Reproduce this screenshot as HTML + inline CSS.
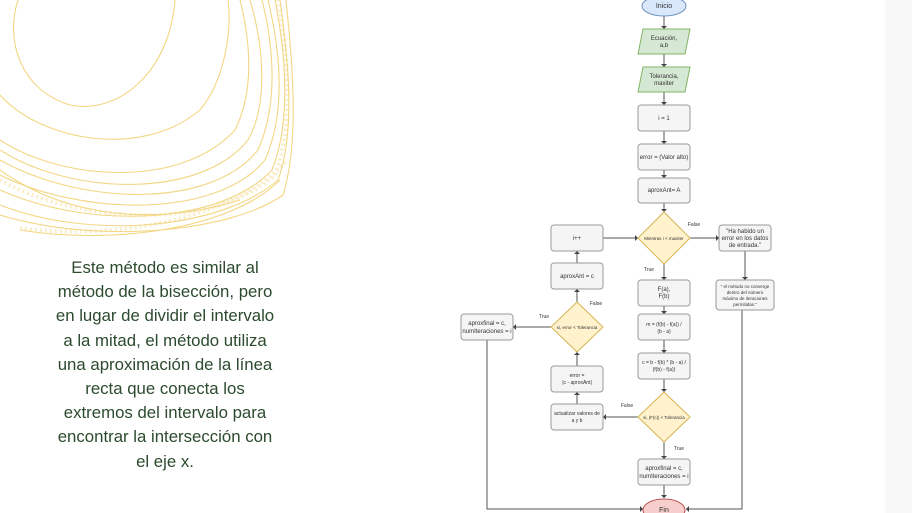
<!DOCTYPE html>
<html><head><meta charset="utf-8"><style>
body{margin:0;width:912px;height:513px;overflow:hidden;background:#fff;position:relative;font-family:"Liberation Sans",sans-serif}
.txt{position:absolute;left:15px;width:300px;top:256px;text-align:center;color:#2c4a2e;font-size:16.8px;line-height:24.2px;white-space:nowrap}
svg{position:absolute;left:0;top:0}
</style></head><body>
<svg width="912" height="513" viewBox="0 0 912 513">
<g fill="none" stroke="#f0c95a" stroke-width="1.1" opacity="0.75">
<path d="M18 0 C5 40 20 90 70 105 C120 115 170 70 175 0"/>
<path d="M0 95 C40 140 140 160 200 110 C225 80 232 30 228 0"/>
<path d="M0 140 C60 180 180 190 235 130 C255 90 250 40 240 0"/>
<path d="M0 150 C70 195 200 200 248 140 C270 100 262 40 250 0"/>
<path d="M0 160 C80 205 210 210 258 150 C280 100 272 40 262 0"/>
<path d="M0 175 C80 215 215 220 265 160 C287 110 280 50 268 0"/>
<path d="M0 190 C90 230 220 225 272 170 C292 120 285 50 275 0"/>
<path d="M0 205 C90 240 220 230 278 180 C296 130 288 60 280 0"/>
<path d="M0 215 C100 245 230 232 283 195 C300 140 292 60 286 0"/>
<path d="M20 230 C110 245 230 230 280 180"/>
<path d="M0 170 C70 220 160 225 240 200"/>
</g>
<g fill="none" stroke="#f5dc96" stroke-width="4" stroke-dasharray="2 3" opacity="0.5">
<path d="M0 180 C80 225 215 230 275 175 C295 120 287 50 278 0"/>
<path d="M20 228 C110 240 230 222 288 160"/>
</g>
<rect x="885" y="0" width="27" height="513" fill="#f8f8f8"/>
<g stroke="#555" stroke-width="1" fill="none">
<path d="M664 16V29M664 54V67M664 92V105M664 131V144M664 170V178M664 203V212M664 264V280M664 306V314M664 340V353M664 379V392M664 442V459M664 485V498"/>
<path d="M690 238H719M745 251V280M742 310V509H686M638 238H603"/>
<path d="M577 302V289M577 263V251M577 366V352M577 404V392M638 417H603M551 327H513M487 340V509H643"/>
</g>
<g fill="#444">
<path d="M661 26l3 3 3-3zM661 64l3 3 3-3zM661 102l3 3 3-3zM661 141l3 3 3-3zM661 175l3 3 3-3zM661 209l3 3 3-3zM661 277l3 3 3-3zM661 311l3 3 3-3zM661 350l3 3 3-3zM661 389l3 3 3-3zM661 456l3 3 3-3zM661 495l3 3 3-3z"/>
<path d="M716 235l3 3-3 3zM742 277l3 3 3-3zM635 235l3 3-3 3zM640 506l3 3-3 3zM689 506l-3 3 3 3z"/>
<path d="M574 292l3-3 3 3zM574 254l3-3 3 3zM574 355l3-3 3 3zM574 395l3-3 3 3zM606 414l-3 3 3 3zM516 324l-3 3 3 3z"/>
</g>
<ellipse cx="664" cy="6" rx="22" ry="10" fill="#dae8fc" stroke="#6c8ebf"/>
<ellipse cx="664" cy="510" rx="21" ry="11" fill="#f8cecc" stroke="#b85450"/>
<g fill="#d5e8d4" stroke="#82b366">
<path d="M643 29H690L685 54H638Z"/><path d="M643 67H690L685 92H638Z"/>
</g>
<g fill="#f5f5f5" stroke="#999">
<rect x="638" y="105" width="52" height="26" rx="3"/>
<rect x="638" y="144" width="52" height="26" rx="3"/>
<rect x="638" y="178" width="52" height="25" rx="3"/>
<rect x="638" y="280" width="52" height="26" rx="3"/>
<rect x="638" y="314" width="52" height="26" rx="3"/>
<rect x="638" y="353" width="52" height="26" rx="3"/>
<rect x="638" y="459" width="52" height="26" rx="3"/>
<rect x="551" y="225" width="52" height="26" rx="3"/>
<rect x="551" y="263" width="52" height="26" rx="3"/>
<rect x="551" y="366" width="52" height="26" rx="3"/>
<rect x="551" y="404" width="52" height="26" rx="3"/>
<rect x="461" y="314" width="52" height="26" rx="3"/>
<rect x="719" y="225" width="52" height="26" rx="3"/>
<rect x="716" y="280" width="58" height="30" rx="3"/>
</g>
<g fill="#fff2cc" stroke="#d6b656">
<path d="M664 212L690 238 664 264 638 238Z"/>
<path d="M664 392L690 417 664 442 638 417Z"/>
<path d="M577 302L603 327 577 352 551 327Z"/>
</g>
<g fill="#333" font-size="6" text-anchor="middle" font-family="Liberation Sans,sans-serif">
<text x="664" y="8" font-size="7">Inicio</text>
<text x="664" y="40">Ecuación,</text><text x="664" y="47">a,b</text>
<text x="664" y="78">Tolerancia,</text><text x="664" y="85">maxiter</text>
<text x="664" y="120">i = 1</text>
<text x="664" y="159">error = (Valor alto)</text>
<text x="664" y="192">aproxAnt= A</text>
<text x="664" y="240" font-size="4.5">Mientras i &lt; maxiter</text>
<text x="664" y="291">F(a),</text><text x="664" y="298">F(b)</text>
<text x="664" y="326" font-size="5">m = (f(b) - f(a)) /</text><text x="664" y="333" font-size="5">(b - a)</text>
<text x="664" y="364" font-size="5">c = b - f(b) * (b - a) /</text><text x="664" y="371" font-size="5">(f(b) - f(a))</text>
<text x="664" y="419" font-size="4.5">si, |F(c)| &lt; Tolerancia</text>
<text x="664" y="470">aproxfinal = c,</text><text x="664" y="478">numIteraciones = i</text>
<text x="664" y="512" font-size="7">Fin</text>
<text x="577" y="240">i++</text>
<text x="577" y="278">aproxAnt = c</text>
<text x="577" y="329" font-size="4.5">si, error &lt; Tolerancia</text>
<text x="577" y="377" font-size="5">error =</text><text x="577" y="384" font-size="5">|c - aproxAnt|</text>
<text x="577" y="415" font-size="5">actualizar valores de</text><text x="577" y="422" font-size="5">a y b</text>
<text x="487" y="325">aproxfinal = c,</text><text x="487" y="333">numIteraciones = i</text>
<text x="745" y="233">"Ha habido un</text><text x="745" y="240">error en los datos</text><text x="745" y="247">de entrada."</text>
<text x="745" y="288" font-size="4.5">" el método no converge</text><text x="745" y="294" font-size="4.5">dentro del número</text><text x="745" y="300" font-size="4.5">máximo de iteraciones</text><text x="745" y="306" font-size="4.5">permitidas."</text>
<text x="694" y="226" font-size="5">False</text>
<text x="649" y="271" font-size="5">True</text>
<text x="596" y="305" font-size="5">False</text>
<text x="544" y="318" font-size="5">True</text>
<text x="627" y="407" font-size="5">False</text>
<text x="679" y="450" font-size="5">True</text>
</g>
</svg>
<div class="txt">Este método es similar al<br>método de la bisección, pero<br>en lugar de dividir el intervalo<br>a la mitad, el método utiliza<br>una aproximación de la línea<br>recta que conecta los<br>extremos del intervalo para<br>encontrar la intersección con<br>el eje x.</div>
</body></html>
